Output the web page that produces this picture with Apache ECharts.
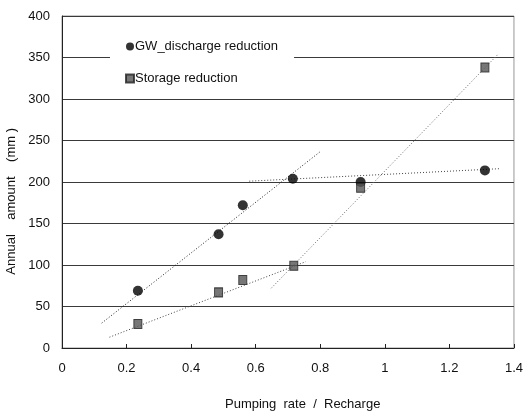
<!DOCTYPE html>
<html>
<head>
<meta charset="utf-8">
<script src="https://cdn.jsdelivr.net/npm/echarts@6/dist/echarts.min.js"></script>
<style>html,body{margin:0;padding:0;background:#fff}#c{width:526px;height:413px}</style>
</head>
<body>
<div id="c"></div>
<script>
// Data
var gwX = [0.235, 0.485, 0.56, 0.715, 0.925, 1.31];
var gwY = [69, 137, 172, 204, 200, 214];
var stX = [0.235, 0.485, 0.56, 0.718, 0.925, 1.31];
var stY = [29, 67, 82, 99, 193, 338];
// Dotted trend lines (endpoints)
var gwFit1 = [[0.123, 30], [0.798, 236]];
var gwFit2 = [[0.58, 201], [1.354, 216]];
var stFit1 = [[0.147, 13], [0.755, 104]];
var stFit2 = [[0.648, 72], [1.351, 354]];
var xTicks = ['0', '0.2', '0.4', '0.6', '0.8', '1', '1.2', '1.4'];

function pairs(xs, ys) { return xs.map(function (x, i) { return [x, ys[i]]; }); }

var font = 'Arial, "Liberation Sans", sans-serif';
var chart = echarts.init(document.getElementById('c'));
chart.setOption({
  animation: false,
  backgroundColor: '#fff',
  textStyle: { fontFamily: font },
  grid: { left: 62, right: 8, top: 16, bottom: 65, show: true, borderColor: '#999', borderWidth: 1 },
  legend: {
    orient: 'vertical',
    left: 110, top: 32,
    padding: [8, 16, 8, 15],
    itemGap: 19,
    itemWidth: 8, itemHeight: 8,
    backgroundColor: '#fff',
    textStyle: { fontFamily: font, fontSize: 13, color: '#111', padding: [0, 0, 0, -4] },
    data: [
      { name: 'GW_discharge reduction', icon: 'circle' },
      { name: 'Storage reduction', icon: 'rect' }
    ]
  },
  graphic: [
    { type: 'text', left: 5, top: 128, rotation: Math.PI / 2,
      style: { text: 'Annual    amount    (mm )', font: '13px ' + font, fill: '#111' } },
    { type: 'text', left: 225, top: 398,
      style: { text: 'Pumping  rate  /  Recharge', font: '13px ' + font, fill: '#111' } }
  ],
  xAxis: {
    type: 'value', min: 0, max: 1.4, interval: 0.2,
    axisLine: { show: true, lineStyle: { color: '#222', width: 1 } },
    axisTick: { show: true, inside: true, length: 4, lineStyle: { color: '#222' } },
    axisLabel: { fontFamily: font, fontSize: 13, color: '#111', margin: 14,
      formatter: function (v) { return xTicks[Math.round(v / 0.2)]; } },
    splitLine: { show: false }
  },
  yAxis: {
    type: 'value', min: 0, max: 400, interval: 50,
    axisLine: { show: true, lineStyle: { color: '#222', width: 1 } },
    axisTick: { show: false },
    axisLabel: { fontFamily: font, fontSize: 13, color: '#111', margin: 12 },
    splitLine: { show: true, lineStyle: { color: '#3a3a3a', width: 1 } }
  },
  series: [
    { type: 'line', data: gwFit1, symbol: 'none', silent: true, z: 3,
      lineStyle: { color: '#222', width: 1, type: [1, 2] } },
    { type: 'line', data: gwFit2, symbol: 'none', silent: true, z: 3,
      lineStyle: { color: '#444', width: 1, type: [1, 2] } },
    { type: 'line', data: stFit1, symbol: 'none', silent: true, z: 3,
      lineStyle: { color: '#444', width: 1, type: [1, 2] } },
    { type: 'line', data: stFit2, symbol: 'none', silent: true, z: 3,
      lineStyle: { color: '#666', width: 1, type: [1, 2] } },
    { name: 'GW_discharge reduction', type: 'scatter', data: pairs(gwX, gwY),
      symbol: 'circle', symbolSize: 10, z: 5, itemStyle: { color: '#000' } },
    { name: 'Storage reduction', type: 'scatter', data: pairs(stX, stY),
      symbol: 'rect', symbolSize: [8, 9], z: 5,
      itemStyle: { color: '#555', borderColor: '#222', borderWidth: 1 } }
  ]
});
</script>
</body>
</html>
